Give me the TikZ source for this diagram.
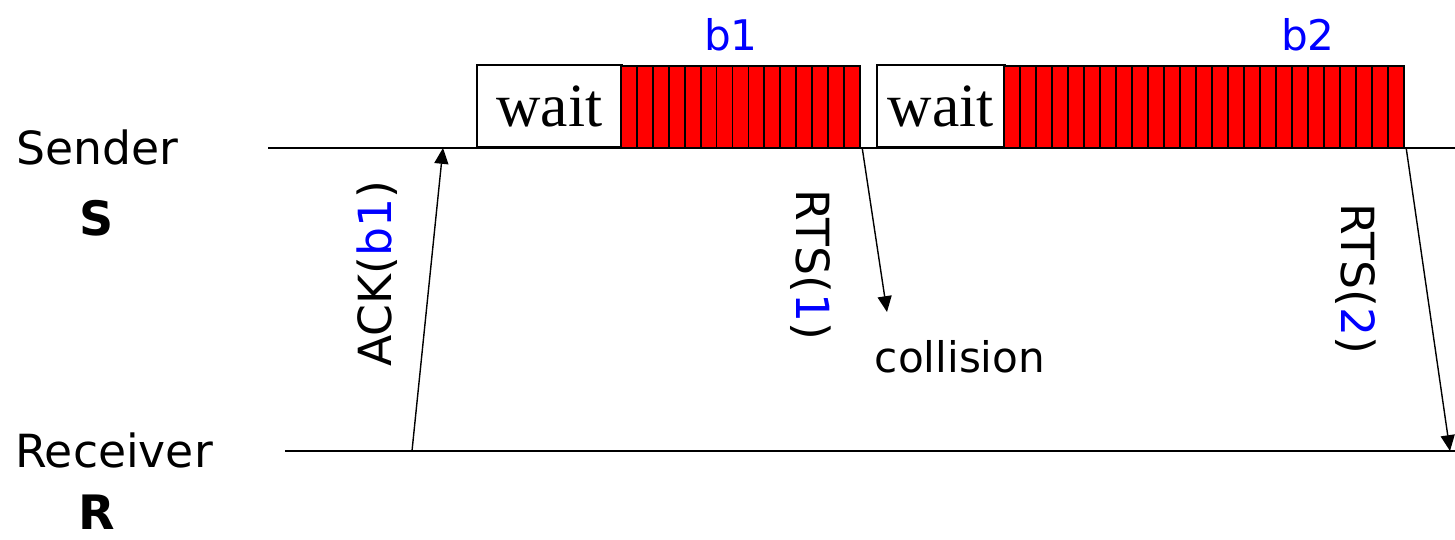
\documentclass[tikz,border=0pt]{standalone}
\usepackage{fontspec}
\setmainfont{DejaVu Sans}
\newfontfamily\waitfont{Liberation Serif}
\usetikzlibrary{arrows.meta}
\definecolor{bitred}{RGB}{255,0,0}
\definecolor{seqblue}{RGB}{0,0,255}

\begin{document}
\begin{tikzpicture}[x=0.02cm,y=-0.02cm,
		every node/.style={inner sep=0pt},
		lbl/.style={font=\fontsize{26}{30}\selectfont},
		waitbox/.style={draw,line width=0.9pt,fill=white,anchor=south west,
			minimum height=1.64cm,font=\fontsize{35}{40}\selectfont\waitfont},
		bitbox/.style={anchor=south west,minimum height=1.64cm},
		bit/.style={draw,line width=1pt,fill=bitred},
		msg/.style={line width=0.8pt,-{Triangle[length=9pt,width=8pt]}}]
		\useasboundingbox (0,0) rectangle (1455,540);
		% time lines
		\coordinate (s0) at (268,148);
		\coordinate (s1) at (1455,148);
		\coordinate (r0) at (285,451);
		\coordinate (r1) at (1455,451);
		\draw [line width=0.8pt] (s0) -- (s1);
		\draw [line width=0.8pt] (r0) -- (r1);
		\node (sender) [lbl] at (97,147) {Sender};
		\node (s) [lbl,font=\fontsize{27}{30}\selectfont\bfseries] at (97,218) {S};
		\node (receiver) [lbl] at (114,450) {Receiver};
		\node (r) [lbl,font=\fontsize{27}{30}\selectfont\bfseries] at (97,512) {R};
		% first burst
		\node (wait1) [waitbox,minimum width=2.9cm] at (476,148) {wait};
		\node (bits1) [bitbox,minimum width=4.78cm] at (wait1.south east) {};
		\foreach \i in {0,...,14}
			\draw [bit] ({621+\i*15.93},66) rectangle ++(15.93,82);
		\node (b1) [lbl,text=seqblue,font=\fontsize{24}{28}\selectfont] at (731,35) {b1};
		% second burst
		\node (wait2) [waitbox,minimum width=2.56cm] at (876,148) {wait};
		\node (bits2) [bitbox,minimum width=8cm] at (wait2.south east) {};
		\foreach \i in {0,...,24}
			\draw [bit] ({1004+\i*16},66) rectangle ++(16,82);
		\node (b2) [lbl,text=seqblue,font=\fontsize{24}{28}\selectfont] at (1308,35) {b2};
		% messages
		\coordinate (ackfrom) at (412,451);
		\coordinate (ackto) at (443,148);
		\coordinate (rts1to) at (887,312);
		\coordinate (rts2to) at (1450,451);
		\draw [msg] (ackfrom) -- (ackto);
		\draw [msg] (bits1.south east) -- (rts1to);
		\draw [msg] (bits2.south east) -- (rts2to);
		\node (ack) [lbl,rotate=90] at (377,274) {ACK(\textcolor{seqblue}{b1})};
		\node (rts1) [lbl,rotate=-90] at (811,265) {RTS(\textcolor{seqblue}{1})};
		\node (rts2) [lbl,rotate=-90] at (1356,279) {RTS(\textcolor{seqblue}{2})};
		\node (collision) [lbl,font=\fontsize{24}{28}\selectfont] at (960,357) {collision};
\end{tikzpicture}
\end{document}
